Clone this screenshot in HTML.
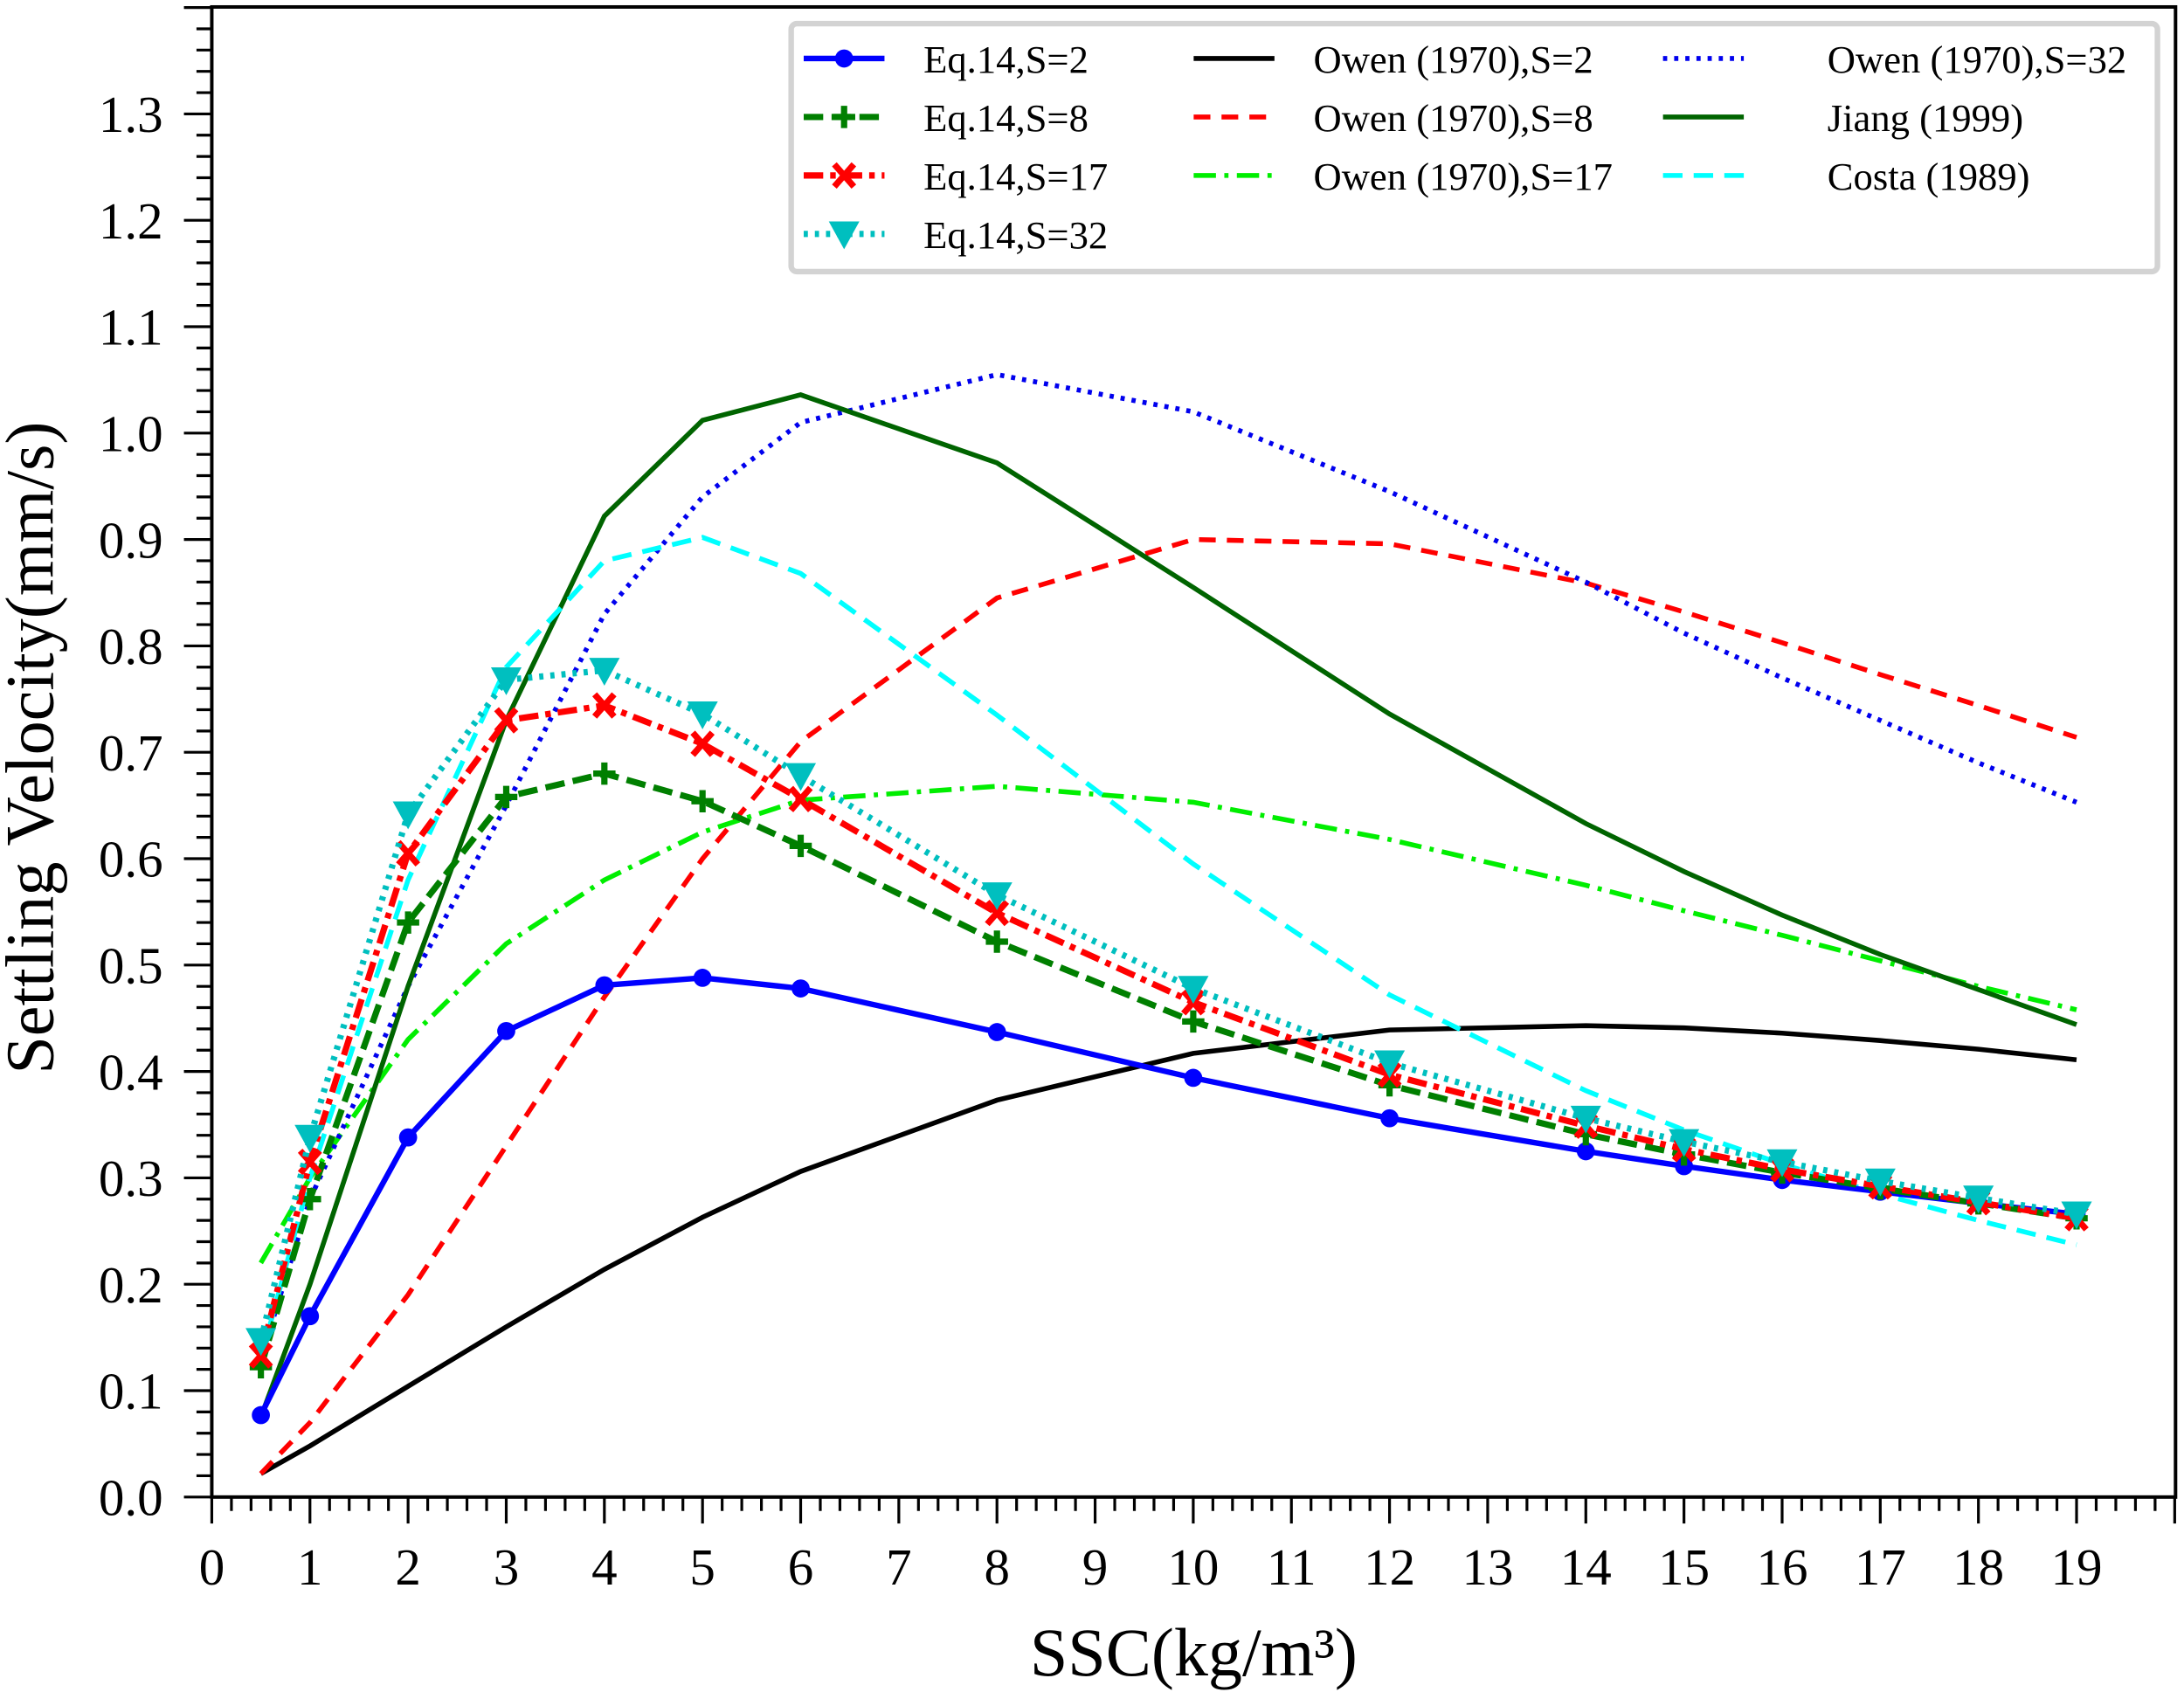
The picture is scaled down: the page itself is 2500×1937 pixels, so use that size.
<!DOCTYPE html>
<html><head><meta charset="utf-8"><style>html,body{margin:0;padding:0;background:#fff}svg{display:block}</style></head>
<body>
<svg id="c" xmlns="http://www.w3.org/2000/svg" width="2500" height="1937" viewBox="0 0 1568 1215" font-family="Liberation Serif, serif"></svg>
<script>
const svg=document.getElementById('c');
const X=x=>152+70.47*x, Y=y=>1075-764*y;
let h='';
const xs=[0.5,1,2,3,4,5,6,8,10,12,14,15,16,17,18,19];
const S={
e2:[0.077,0.17,0.338,0.438,0.481,0.488,0.478,0.437,0.394,0.356,0.325,0.311,0.298,0.287,0.276,0.266],
e8:[0.122,0.28,0.54,0.658,0.68,0.654,0.612,0.522,0.447,0.387,0.341,0.322,0.305,0.290,0.276,0.262],
e17:[0.133,0.315,0.605,0.73,0.744,0.708,0.656,0.549,0.465,0.397,0.349,0.327,0.308,0.292,0.277,0.262],
e32:[0.147,0.338,0.642,0.768,0.777,0.736,0.678,0.566,0.478,0.408,0.356,0.334,0.315,0.297,0.281,0.266],
o2:[0.022,0.048,0.104,0.16,0.214,0.263,0.306,0.373,0.417,0.439,0.443,0.441,0.436,0.429,0.421,0.411],
o8:[0.022,0.07,0.19,0.33,0.47,0.6,0.71,0.845,0.9,0.896,0.859,0.832,0.803,0.773,0.744,0.714],
o17:[0.22,0.3,0.43,0.52,0.58,0.625,0.655,0.668,0.653,0.618,0.575,0.551,0.528,0.504,0.48,0.458],
o32:[0.13,0.28,0.48,0.65,0.83,0.94,1.01,1.055,1.02,0.945,0.86,0.812,0.77,0.73,0.69,0.653],
j:[0.075,0.2,0.48,0.73,0.922,1.012,1.036,0.972,0.855,0.736,0.633,0.588,0.547,0.51,0.477,0.444],
c:[0.13,0.3,0.58,0.78,0.88,0.902,0.868,0.735,0.595,0.472,0.382,0.345,0.313,0.285,0.26,0.237]};
const line=(d,col,dash,w)=>`<polyline fill="none" stroke="${col}" stroke-width="${w||3}" ${dash?'stroke-dasharray="'+dash+'"':''} points="${xs.map((x,i)=>X(x).toFixed(1)+','+Y(d[i]).toFixed(1)).join(' ')}"/>`;
const mk=(t,x,y,col)=>{
 if(t=='o')return `<circle cx="${x}" cy="${y}" r="6.5" fill="${col}"/>`;
 if(t=='+')return `<path d="M${x-8} ${y}h16M${x} ${y-8}v16" stroke="${col}" stroke-width="4.5"/>`;
 if(t=='x')return `<path d="M${x-7} ${y-8}l14 16M${x+7} ${y-8}l-14 16" stroke="${col}" stroke-width="4.5"/>`;
 if(t=='v')return `<path d="M${x-11} ${y-9}h22l-11 20z" fill="${col}"/>`;};
const mks=(d,t,col)=>xs.map((x,i)=>mk(t,X(x),Y(d[i]),col)).join('');
h+=line(S.o2,'#000','',3.5);
h+=line(S.o8,'#ff0000','12 8',3.5);
h+=line(S.o17,'#00ee00','16 6 3 6',3.5);
h+=line(S.o32,'#0000ee','3 5',3.5);
h+=line(S.j,'#006400','',3.5);
h+=line(S.c,'#00ffff','14 8',3.5);
h+=line(S.e2,'#0000ff','',4)+mks(S.e2,'o','#0000ff');
h+=line(S.e8,'#007f00','14 6',4.5)+mks(S.e8,'+','#007f00');
h+=line(S.e17,'#ff0000','14 5 4 5',4.5)+mks(S.e17,'x','#ff0000');
h+=line(S.e32,'#00bfbf','3 5',4.5)+mks(S.e32,'v','#00bfbf');
h+=`<rect x="152" y="5" width="1410" height="1070" fill="none" stroke="#000" stroke-width="2.5"/>`;
for(let i=0;i<=100;i++){const x=X(i*0.2);if(x>1562)break;const M=i%5==0;h+=`<line x1="${x}" y1="1075" x2="${x}" y2="${1075+(M?19:10)}" stroke="#000" stroke-width="2"/>`;if(M&&i/5<=19)h+=`<text x="${x}" y="1138" font-size="37" text-anchor="middle">${i/5}</text>`;}
for(let i=0;i<=70;i++){const y=Y(i*0.02);const M=i%5==0;h+=`<line x1="152" y1="${y}" x2="${152-(M?20:11)}" y2="${y}" stroke="#000" stroke-width="2"/>`;if(M&&i/5<=13)h+=`<text x="117" y="${y+13}" font-size="37" text-anchor="end">${(i/50).toFixed(1)}</text>`;}
h+=`<text x="857" y="1203" font-size="49" text-anchor="middle">SSC(kg/m³)</text>`;
h+=`<text transform="translate(38,537) rotate(-90)" font-size="49" text-anchor="middle">Settling Velocity(mm/s)</text>`;
h+=`<rect x="568" y="17" width="981" height="178" rx="4" fill="#fff" stroke="#d3d3d3" stroke-width="4"/>`;
const L=[
[577,42,'#0000ff','',4,'o','Eq.14,S=2'],[577,84,'#007f00','14 6',4.5,'+','Eq.14,S=8'],[577,126,'#ff0000','14 5 4 5',4.5,'x','Eq.14,S=17'],[577,168,'#00bfbf','3 5',4.5,'v','Eq.14,S=32'],
[857,42,'#000','',3.5,'','Owen (1970),S=2'],[857,84,'#ff0000','12 8',3.5,'','Owen (1970),S=8'],[857,126,'#00ee00','16 6 3 6',3.5,'','Owen (1970),S=17'],
[1194,42,'#0000ee','3 5',3.5,'','Owen (1970),S=32'],[1194,84,'#006400','',3.5,'','Jiang (1999)'],[1194,126,'#00ffff','14 8',3.5,'','Costa (1989)']];
L.forEach(([x,y,c,d,w,m,t])=>{h+=`<line x1="${x}" y1="${y}" x2="${x+58}" y2="${y}" stroke="${c}" stroke-width="${w}" ${d?'stroke-dasharray="'+d+'"':''}/>`;if(m)h+=mk(m,x+29,y,c);
h+=`<text x="${x+(x>1100?118:86)}" y="${y+10}" font-size="28">${t}</text>`;});
svg.innerHTML=h;
</script>
</body></html>
